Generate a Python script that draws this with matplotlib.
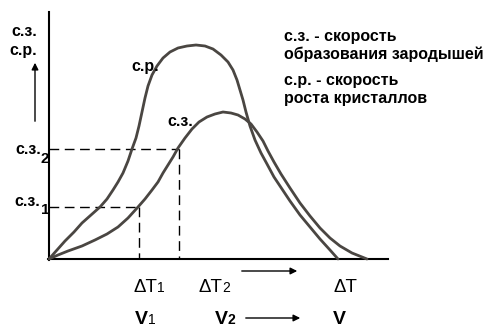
import matplotlib
matplotlib.use("Agg")
import matplotlib.pyplot as plt

# точки кривых (x, y в пикселях, y вниз)
cr_x = [49, 57, 65, 74, 82, 91, 100, 107, 113, 118, 123, 128, 132, 136, 139, 142, 145, 148,
        152, 157, 163, 170, 178, 187, 196, 205, 213, 221, 228, 233, 237, 240, 243, 246, 250,
        255, 261, 267, 274, 282, 290, 300, 310, 320, 330, 338]
cr_y = [259, 250, 241, 232, 223, 215, 207, 199, 190, 182, 173, 161, 149, 138, 126, 112, 98, 86,
        75, 66, 58, 52, 48, 46, 45, 46, 49, 55, 62, 70, 80, 90, 100, 112, 126,
        140, 153, 164, 177, 189, 201, 215, 227, 239, 250, 259]

cz_x = [49, 58, 68, 82, 95, 107, 118, 128, 138, 145, 152, 158, 163, 168, 173, 178, 185, 192,
        199, 207, 215, 223, 231, 238, 245, 251, 257, 263, 268, 274, 281, 290, 300, 310, 320,
        330, 340, 352, 367]
cz_y = [259, 255, 251, 246, 240, 234, 227, 218, 207, 199, 190, 182, 173, 165, 157, 148, 138, 129,
        122, 117, 114, 112, 113, 115, 119, 124, 132, 141, 151, 162, 174, 188, 203, 216, 228,
        238, 246, 253, 259]

# уровни с.з.1 и с.з.2 и соответствующие ΔT
level_y = [207, 149]
level_x = [139, 179]

col = "#4a4642"
bold = dict(family=["Liberation Sans", "DejaVu Sans"], fontweight="bold")
reg = dict(family=["Liberation Sans", "DejaVu Sans"])

fig = plt.figure(figsize=(4.85, 3.34), dpi=100)
ax = fig.add_axes([0, 0, 1, 1])
ax.set_xlim(0, 485)
ax.set_ylim(334, 0)
ax.axis("off")

# оси
ax.plot([49, 49], [12, 260], color="black", lw=1.5)
ax.plot([48, 388], [259, 259], color="black", lw=1.5)

# пунктир
for yy, xx in zip(level_y, level_x):
    ax.plot([49, xx], [yy, yy], color="black", lw=1, dashes=(7, 4))
    ax.plot([xx, xx], [yy, 259], color="black", lw=1, dashes=(7, 4))

# кривые
ax.plot(cr_x, cr_y, color=col, lw=2, solid_capstyle="round", solid_joinstyle="round")
ax.plot(cz_x, cz_y, color=col, lw=2, solid_capstyle="round", solid_joinstyle="round")

# подписи кривых
ax.text(145, 67, "с.р.", fontsize=11.5, ha="center", va="center", **bold)
ax.text(180, 121, "с.з.", fontsize=11.5, ha="center", va="center", **bold)

# подписи оси Y
ax.text(24, 31, "с.з.", fontsize=11.5, ha="center", va="center", **bold)
ax.text(23, 50, "с.р.", fontsize=11.5, ha="center", va="center", **bold)
ax.annotate("", xy=(35, 60), xytext=(35, 124),
            arrowprops=dict(arrowstyle="-|>", color="black", lw=1, mutation_scale=10))

ax.text(41, 150, "с.з.", fontsize=11.5, ha="right", va="center", **bold)
ax.text(41, 159, "2", fontsize=11, ha="left", va="center", **bold)
ax.text(40, 201, "с.з.", fontsize=11.5, ha="right", va="center", **bold)
ax.text(41, 210, "1", fontsize=11, ha="left", va="center", **bold)

# подписи оси X
ax.text(157, 292, "ΔT", fontsize=13.5, ha="right", va="baseline", **reg)
ax.text(157, 292, "1", fontsize=10, ha="left", va="baseline", **reg)
ax.text(222, 292, "ΔT", fontsize=13.5, ha="right", va="baseline", **reg)
ax.text(222, 292, "2", fontsize=10, ha="left", va="baseline", **reg)
ax.text(345, 292, "ΔT", fontsize=13.5, ha="center", va="baseline", **reg)
ax.annotate("", xy=(300, 271), xytext=(239, 271),
            arrowprops=dict(arrowstyle="-|>", color="black", lw=1, mutation_scale=10))

ax.text(148, 324, "V", fontsize=14, ha="right", va="baseline", **bold)
ax.text(148, 324, "1", fontsize=10, ha="left", va="baseline", **reg)
ax.text(228, 324, "V", fontsize=14, ha="right", va="baseline", **bold)
ax.text(228, 324, "2", fontsize=10, ha="left", va="baseline", **bold)
ax.text(339, 324, "V", fontsize=14, ha="center", va="baseline", **bold)
ax.annotate("", xy=(303, 318), xytext=(243, 318),
            arrowprops=dict(arrowstyle="-|>", color="black", lw=1, mutation_scale=10))

# пояснение справа
ax.text(284, 36, "с.з. - скорость", fontsize=11.5, ha="left", va="center", **bold)
ax.text(284, 54, "образования зародышей", fontsize=11.5, ha="left", va="center", **bold)
ax.text(284, 81, "с.р. - скорость", fontsize=11.5, ha="left", va="center", **bold)
ax.text(284, 99, "роста кристаллов", fontsize=11.5, ha="left", va="center", **bold)

fig.savefig("out.png", dpi=100)
